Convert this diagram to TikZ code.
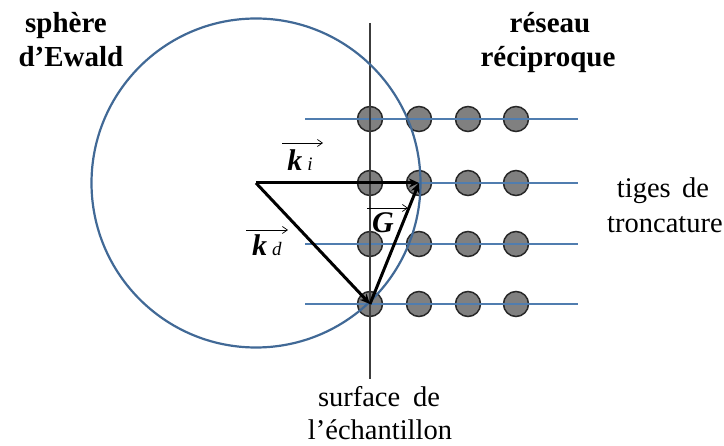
\documentclass[tikz,border=0pt]{standalone}
\usepackage{fontspec}
\setmainfont{Liberation Serif}
\usetikzlibrary{arrows.meta}
\definecolor{ewald}{RGB}{65,105,150}
\definecolor{rod}{RGB}{80,125,175}
\definecolor{dotfill}{RGB}{128,128,128}
\definecolor{dotline}{RGB}{40,40,40}
\definecolor{surf}{RGB}{60,60,60}
\tikzset{
  dotnode/.style={circle,minimum size=25pt,inner sep=0pt,fill=dotfill,draw=dotline,line width=1.5pt},
  rodline/.style={draw=rod,line width=1.3pt},
  vec/.style={line width=3pt,-{Stealth[length=10pt,width=9pt]}},
  overarrow/.style={line width=0.7pt,-{Straight Barb[length=5pt,width=7pt]}},
  boldlbl/.style={font=\fontsize{29}{29}\selectfont\bfseries,inner sep=0pt,anchor=base},
  plainlbl/.style={font=\fontsize{28.5}{28.5}\selectfont,inner sep=0pt,anchor=base},
  veclbl/.style={inner sep=0pt,anchor=base,font=\fontsize{30}{30}\selectfont}
}
\newcommand{\subsc}[1]{\,{\fontsize{19}{19}\selectfont\textit{#1}}}
\begin{document}
\begin{tikzpicture}[x=1pt,y=-1pt]
\useasboundingbox (0,0) rectangle (724,446);
% rods
\foreach \r/\y in {1/119,2/183,3/244,4/304}{
  \coordinate (rs\r) at (305,\y);
  \coordinate (re\r) at (578,\y);
}
% dots
\foreach \r/\y in {1/119,2/183,3/244,4/304}{
  \foreach \c/\x in {1/370,2/419,3/468,4/516}{
    \node[dotnode] (d\r\c) at (\x,\y) {};
  }
}
\foreach \r in {1,2,3,4}{ \draw[rodline] (rs\r) -- (re\r); }
% sample surface
\coordinate (st) at (370,23);
\coordinate (sb) at (370,379);
\draw[surf,line width=2pt] (st) -- (sb);
% Ewald sphere
\coordinate (O) at (256,183);
\draw[ewald,line width=2.2pt] (O) circle[radius=164.5];
% vectors
\draw[vec] (O) -- (d22.center);
\draw[vec] (O) -- (d41.center);
\draw[vec] (d41.center) -- (d22.center);
% vector labels
\node[veclbl] (ki) at (300,171) {\textbf{\textit{k}}\subsc{i}};
\draw[overarrow] ([xshift=-18pt,yshift=28pt]ki.base) -- ([xshift=23pt,yshift=28pt]ki.base);
\node[veclbl] (kd) at (267,256) {\textbf{\textit{k}}\subsc{d}};
\draw[overarrow] ([xshift=-21pt,yshift=26pt]kd.base) -- ([xshift=21pt,yshift=26pt]kd.base);
\node[veclbl] (G) at (383,233) {\textbf{\textit{G}}};
\draw[overarrow] ([xshift=-16pt,yshift=25pt]G.base) -- ([xshift=25pt,yshift=25pt]G.base);
% texts
\node[boldlbl] (sph) at (66,33) {sphère};
\node[boldlbl] (ewa) at (71,67) {d’Ewald};
\node[boldlbl] (res) at (550,33) {réseau};
\node[boldlbl] (rec) at (548,67) {réciproque};
\node[plainlbl] (tig) at (663,198) {tiges\hspace{0.4em}de};
\node[plainlbl] (tro) at (665,233) {troncature};
\node[plainlbl] (sur) at (379,407) {surface\hspace{0.45em}de};
\node[plainlbl] (ech) at (380,440) {l’échantillon};
\end{tikzpicture}
\end{document}
